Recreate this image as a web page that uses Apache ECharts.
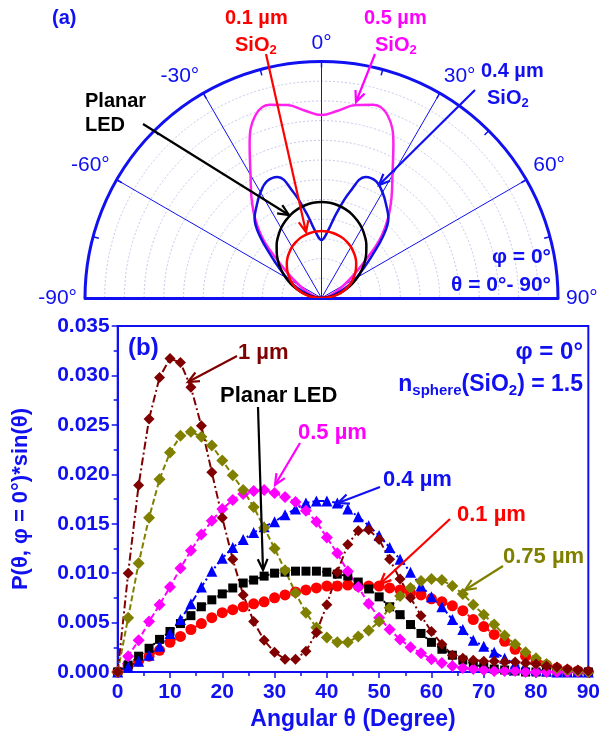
<!DOCTYPE html>
<html>
<head>
<meta charset="utf-8">
<script src="https://cdn.jsdelivr.net/npm/echarts@6/dist/echarts.min.js"></script>
<style>
html, body { margin: 0; padding: 0; background: #fff; }
#chart { width: 603px; height: 744px; }
</style>
</head>
<body>
<div id="chart"></div>
<script>
// (a) polar intensity, theta 0..90 (mirrored for the left half)
var polarTheta = [0, 5, 10, 15, 20, 25, 30, 35, 40, 45, 50, 55, 60, 65, 70, 75, 80, 85, 90];
var planarPolar = [4.87, 4.85, 4.78, 4.67, 4.52, 4.32, 4.10, 3.83, 3.54, 3.21, 2.87, 2.50, 2.12, 1.73, 1.34, 0.96, 0.60, 0.26, 0];
var sio01Polar = [3.40, 3.39, 3.35, 3.29, 3.22, 3.11, 2.99, 2.84, 2.68, 2.49, 2.28, 2.06, 1.82, 1.57, 1.30, 1.01, 0.70, 0.38, 0];
var sio04Polar = [2.94, 3.35, 4.36, 5.58, 6.54, 6.54, 6.19, 5.73, 5.28, 4.41, 3.35, 2.59, 2.03, 1.52, 1.07, 0.71, 0.41, 0.15, 0];
var sio05Polar = [9.28, 9.54, 9.94, 10.15, 9.84, 8.63, 7.20, 6.19, 5.23, 4.16, 2.79, 1.93, 1.32, 0.91, 0.61, 0.41, 0.20, 0.10, 0];

// (b) P(theta)*sin(theta)
var theta = [0, 2, 4, 6, 8, 10, 12, 14, 16, 18, 20, 22, 24, 26, 28, 30, 32, 34, 36, 38, 40, 42, 44,
    46, 48, 50, 52, 54, 56, 58, 60, 62, 64, 66, 68, 70, 72, 74, 76, 78, 80, 82, 84, 86, 88, 90];
var um1 = [0, 0.0100, 0.0189, 0.0256, 0.0298, 0.0317, 0.0313, 0.0288, 0.0249, 0.0202, 0.0156, 0.0114, 0.0078,
    0.0051, 0.0032, 0.0020, 0.0013, 0.0013, 0.0021, 0.0040, 0.0068, 0.0101, 0.0129, 0.0143, 0.0144, 0.0134,
    0.0114, 0.0094, 0.0075, 0.0057, 0.0041, 0.0028, 0.0017, 0.0014, 0.0012, 0.0011, 0.0011, 0.0010, 0.0010,
    0.0009, 0.0008, 0.0006, 0.0005, 0.0003, 0.0002, 0.0001];
var um075 = [0, 0.0055, 0.0110, 0.0156, 0.0195, 0.0222, 0.0239, 0.0243, 0.0238, 0.0229, 0.0214, 0.0199, 0.0184,
    0.0167, 0.0146, 0.0125, 0.0103, 0.0080, 0.0060, 0.0045, 0.0035, 0.0030, 0.0030, 0.0036, 0.0042, 0.0051,
    0.0065, 0.0077, 0.0085, 0.0092, 0.0094, 0.0093, 0.0087, 0.0079, 0.0068, 0.0058, 0.0048, 0.0037, 0.0028,
    0.0020, 0.0014, 0.0008, 0.0004, 0.0002, 0.0001, 0];
var um05 = [0, 0.0016, 0.0032, 0.0051, 0.0068, 0.0086, 0.0105, 0.0123, 0.0139, 0.0153, 0.0165, 0.0174, 0.0180,
    0.0183, 0.0184, 0.0181, 0.0177, 0.0172, 0.0163, 0.0152, 0.0136, 0.0120, 0.0102, 0.0086, 0.0069, 0.0055,
    0.0043, 0.0033, 0.0025, 0.0019, 0.0013, 0.0009, 0.0006, 0.0004, 0.0003, 0.0002, 0.0001, 0.0001, 0.0001,
    0, 0, 0, 0, 0, 0, 0];
var um04 = [0, 0.0005, 0.0011, 0.0017, 0.0026, 0.0039, 0.0053, 0.0069, 0.0086, 0.0102, 0.0115, 0.0126, 0.0134,
    0.0141, 0.0147, 0.0152, 0.0159, 0.0165, 0.0171, 0.0173, 0.0173, 0.0171, 0.0165, 0.0157, 0.0148, 0.0138,
    0.0126, 0.0114, 0.0101, 0.0087, 0.0076, 0.0066, 0.0053, 0.0043, 0.0032, 0.0026, 0.0020, 0.0014, 0.0008,
    0.0004, 0.0002, 0.0001, 0, 0, 0, 0];
var um01 = [0, 0.0006, 0.0011, 0.0016, 0.0022, 0.0030, 0.0036, 0.0043, 0.0049, 0.0055, 0.0060, 0.0063, 0.0066,
    0.0069, 0.0071, 0.0075, 0.0078, 0.0081, 0.0083, 0.0085, 0.0087, 0.0087, 0.0088, 0.0087, 0.0087, 0.0087,
    0.0085, 0.0083, 0.0080, 0.0078, 0.0074, 0.0071, 0.0067, 0.0062, 0.0053, 0.0046, 0.0038, 0.0031, 0.0023,
    0.0016, 0.0010, 0.0007, 0.0004, 0.0002, 0.0001, 0];
var planar = [0, 0.0007, 0.0016, 0.0024, 0.0033, 0.0041, 0.0049, 0.0057, 0.0066, 0.0073, 0.0079, 0.0085, 0.0090,
    0.0093, 0.0097, 0.0100, 0.0101, 0.0102, 0.0102, 0.0102, 0.0101, 0.0099, 0.0097, 0.0091, 0.0084, 0.0076,
    0.0066, 0.0058, 0.0048, 0.0039, 0.0030, 0.0023, 0.0017, 0.0012, 0.0008, 0.0005, 0.0003, 0.0002, 0.0001,
    0, 0, 0, 0, 0, 0, 0];

var BLUE = '#1010f0';
var FONT = '"Liberation Sans", Arial, sans-serif';

function mirror(vals) {
    var out = [];
    for (var i = vals.length - 1; i >= 0; i--) out.push([vals[i], -polarTheta[i]]);
    for (var j = 1; j < vals.length; j++) out.push([vals[j], polarTheta[j]]);
    return out;
}
function pairs(vals) {
    return theta.map(function(t, i) { return [t, vals[i]]; });
}
function polarLine(name, vals, color) {
    return {
        name: name, type: 'line', coordinateSystem: 'polar', polarIndex: 0,
        data: mirror(vals), smooth: 0.4, showSymbol: false,
        lineStyle: { color: color, width: 2.5 }, z: 5
    };
}
function cartLine(name, vals, color, symbol, size, dash) {
    return {
        name: name, type: 'line', xAxisIndex: 0, yAxisIndex: 0,
        data: pairs(vals), symbol: symbol, symbolSize: size,
        itemStyle: { color: color }, lineStyle: { color: color, width: 2, type: dash }
    };
}
function txt(text, x, y, color, size, align, weight) {
    return {
        type: 'text', z: 100,
        style: {
            text: text, x: x, y: y, fill: color,
            font: (weight || 'bold') + ' ' + size + 'px ' + FONT,
            textAlign: align || 'left', align: align || 'left',
            textVerticalAlign: 'middle', verticalAlign: 'middle'
        }
    };
}
function subTxt(parts, x, y, color, size, align) {
    // parts: [[text, isSub], ...]
    var s = parts.map(function(p) { return (p[1] ? '{s|' : '{n|') + p[0] + '}'; }).join('');
    return {
        type: 'text', z: 100,
        style: {
            text: s, x: x, y: y, fill: color,
            font: 'bold ' + size + 'px ' + FONT,
            textAlign: align || 'left', align: align || 'left',
            textVerticalAlign: 'middle', verticalAlign: 'middle',
            rich: {
                n: { fontSize: size, fontWeight: 'bold', fontFamily: FONT, fill: color, color: color, lineHeight: size + 4, verticalAlign: 'middle' },
                s: { fontSize: Math.round(size * 0.65), fontWeight: 'bold', fontFamily: FONT, fill: color, color: color, lineHeight: Math.round(size * 0.65), verticalAlign: 'bottom' }
            }
        }
    };
}
function arrow(x1, y1, x2, y2, color) {
    var a = Math.atan2(y2 - y1, x2 - x1), L = 12, sp = 0.42;
    return [
        { type: 'line', z: 100, shape: { x1: x1, y1: y1, x2: x2, y2: y2 }, style: { stroke: color, lineWidth: 2.2 } },
        { type: 'polyline', z: 100, shape: { points: [
            [x2 - L * Math.cos(a - sp), y2 - L * Math.sin(a - sp)], [x2, y2],
            [x2 - L * Math.cos(a + sp), y2 - L * Math.sin(a + sp)]] },
          style: { stroke: color, lineWidth: 2.2, fill: null } }
    ];
}

var graphics = [
    txt('(a)', 52, 18, BLUE, 20),
    txt('0.1 µm', 225, 18, '#ff0000', 20),
    subTxt([['SiO', 0], ['2', 1]], 235, 45, '#ff0000', 20),
    txt('0.5 µm', 364, 18, '#ff00ff', 20),
    subTxt([['SiO', 0], ['2', 1]], 375, 45, '#ff00ff', 20),
    txt('0.4 µm', 481, 71, BLUE, 20),
    subTxt([['SiO', 0], ['2', 1]], 487, 98, BLUE, 20),
    txt('Planar', 85, 101, '#000', 20),
    txt('LED', 85, 125, '#000', 20),
    txt('φ = 0°', 551, 257, BLUE, 21, 'right'),
    txt('θ = 0°- 90°', 551, 285, BLUE, 21, 'right'),
    txt('(b)', 128, 348, BLUE, 24),
    txt('1 µm', 238, 353, '#800000', 22),
    txt('Planar LED', 220, 396, '#000', 22),
    txt('0.5 µm', 298, 433, '#ff00ff', 22),
    txt('0.4 µm', 383, 480, BLUE, 22),
    txt('0.1 µm', 457, 515, '#ff0000', 22),
    txt('0.75 µm', 503, 557, '#808000', 22),
    txt('φ = 0°', 583, 352, BLUE, 24, 'right'),
    subTxt([['n', 0], ['sphere', 1], ['(SiO', 0], ['2', 1], [') = 1.5', 0]], 583, 385, BLUE, 23, 'right')
].concat(
    arrow(143, 124, 289, 215, '#000'),
    arrow(266, 54, 306, 232, '#ff0000'),
    arrow(375, 54, 356, 102, '#ff00ff'),
    arrow(475, 90, 379, 185, BLUE),
    arrow(237, 356, 188, 382, '#800000'),
    arrow(258, 407, 263, 570, '#000'),
    arrow(300, 443, 275, 485, '#ff00ff'),
    arrow(380, 487, 338, 503, BLUE),
    arrow(450, 519, 380, 584, '#ff0000'),
    arrow(503, 566, 465, 590, '#808000')
);

var chart = echarts.init(document.getElementById('chart'));
chart.setOption({
    animation: false,
    backgroundColor: '#fff',
    textStyle: { fontFamily: FONT },
    polar: [
        { center: [321.5, 298], radius: 236.5 },
        { center: [321.5, 298], radius: 236.5 }
    ],
    angleAxis: [{
        polarIndex: 0, type: 'value', min: -90, max: 90, interval: 30,
        startAngle: 180, endAngle: 0, clockwise: true,
        axisLine: { lineStyle: { color: BLUE, width: 3 } },
        axisTick: { show: true, inside: true, length: 6, lineStyle: { color: BLUE, width: 1.5 } },
        minorTick: { show: true, splitNumber: 2, length: 6, lineStyle: { color: BLUE, width: 1.5 } },
        axisLabel: { formatter: '{value}°', color: BLUE, fontSize: 21, margin: 8, fontFamily: FONT },
        splitLine: { show: true, lineStyle: { color: BLUE, width: 1 } }
    }, {
        polarIndex: 1, type: 'value', min: 0, max: 180,
        startAngle: 0, endAngle: 180, clockwise: false,
        axisLine: { show: false }, axisTick: { show: false }, axisLabel: { show: false },
        splitLine: { show: false }
    }],
    radiusAxis: [{
        polarIndex: 0, min: 0, max: 12, interval: 1,
        axisLine: { lineStyle: { color: BLUE, width: 3 } },
        axisTick: { show: false }, axisLabel: { show: false },
        splitLine: { show: true, lineStyle: { color: '#c4c9ec', width: 1, type: [2, 2] } }
    }, {
        polarIndex: 1, min: 0, max: 12,
        axisLine: { lineStyle: { color: BLUE, width: 3 } },
        axisTick: { show: false }, axisLabel: { show: false }, splitLine: { show: false }
    }],
    grid: {
        left: 117.7, right: 13, top: 326, bottom: 72,
        show: true, borderColor: BLUE, borderWidth: 2, backgroundColor: 'transparent'
    },
    xAxis: {
        type: 'value', min: 0, max: 90, interval: 10,
        name: 'Angular θ (Degree)', nameLocation: 'middle', nameGap: 36,
        nameTextStyle: { color: BLUE, fontSize: 23, fontWeight: 'bold', fontFamily: FONT },
        axisLine: { onZero: false, lineStyle: { color: BLUE, width: 2 } },
        axisTick: { show: true, length: 6, lineStyle: { color: BLUE, width: 1.5 } },
        minorTick: { show: true, splitNumber: 2, length: 4, lineStyle: { color: BLUE, width: 1.5 } },
        axisLabel: { color: BLUE, fontSize: 21, fontWeight: 'bold', margin: 10, fontFamily: FONT },
        splitLine: { show: false }
    },
    yAxis: {
        type: 'value', min: 0, max: 0.035, interval: 0.005,
        name: 'P(θ, φ = 0°)*sin(θ)', nameLocation: 'middle', nameGap: 86, nameRotate: 90,
        nameTextStyle: { color: BLUE, fontSize: 22, fontWeight: 'bold', fontFamily: FONT },
        axisLine: { lineStyle: { color: BLUE, width: 2 } },
        axisTick: { show: true, length: 6, lineStyle: { color: BLUE, width: 1.5 } },
        minorTick: { show: true, splitNumber: 2, length: 4, lineStyle: { color: BLUE, width: 1.5 } },
        axisLabel: { color: BLUE, fontSize: 21, fontWeight: 'bold', margin: 8, fontFamily: FONT,
            formatter: function(v) { return v.toFixed(3); } },
        splitLine: { show: false }
    },
    series: [
        polarLine('0.5 µm SiO2', sio05Polar, '#ff22ee'),
        polarLine('0.4 µm SiO2', sio04Polar, '#1010e0'),
        polarLine('Planar LED', planarPolar, '#000000'),
        polarLine('0.1 µm SiO2', sio01Polar, '#ff0000'),
        cartLine('0.1 µm', um01, '#ff0000', 'circle', 11, [2, 3]),
        cartLine('Planar LED', planar, '#000000', 'rect', 9, [2, 3]),
        cartLine('0.4 µm', um04, '#0000ff', 'triangle', 11, [7, 3, 2, 3]),
        cartLine('0.5 µm', um05, '#ff00ff', 'diamond', 12, [6, 3]),
        cartLine('0.75 µm', um075, '#808000', 'diamond', 12, [6, 3]),
        cartLine('1 µm', um1, '#800000', 'diamond', 11, [8, 3, 2, 3])
    ],
    graphic: graphics
});
</script>
</body>
</html>
